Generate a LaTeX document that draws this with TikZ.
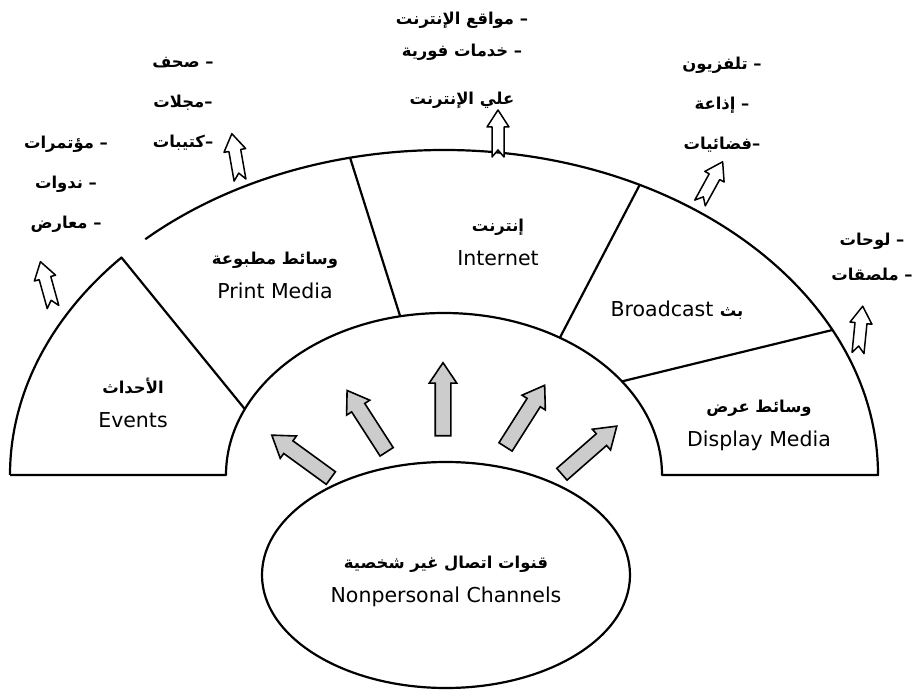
\documentclass[tikz,border=0pt]{standalone}
\usepackage{fontspec}
\setmainfont{DejaVu Sans}
\newfontfamily\arabicfont[Script=Arabic, Scale=0.8]{DejaVu Sans}
\TeXXeTstate=1
\usetikzlibrary{shapes.arrows,shapes.geometric}

\newcommand{\ar}[1]{{\arabicfont\bfseries\beginR #1\endR}}

\tikzset{
  rim/.style={line width=2.2pt, line join=round},
  seglabel/.style={align=center, font=\fontsize{20.5}{34}\selectfont},
  itemlist/.style={align=center, font=\fontsize{20.5}{40}\selectfont},
  channelarrow/.style={single arrow, draw, line width=1.6pt, fill=gray!40,
    inner sep=7pt, minimum height=73pt, single arrow head extend=6pt,
    single arrow tip angle=68},
  outlet/.pic={
    \draw[line width=1.5pt, line join=round, fill=white]
      (-6,0) -- (-6,30) -- (-11,30) -- (0,47) -- (11,30) -- (6,30) -- (6,0) -- (0,7) -- cycle;
  }
}

\begin{document}
\begin{tikzpicture}[x=1pt,y=1pt]
\useasboundingbox (0,0) rectangle (915,691);

\begin{scope}[shift={(444,216)}]
\draw[rim] (-434,0) arc[start angle=180, end angle=138, x radius=434, y radius=325] -- (156:218 and 162);
\draw[rim] (-434,0) -- (-218,0) arc[start angle=180, end angle=0, x radius=218, y radius=162]
  -- (434,0) arc[start angle=0, end angle=133.5, x radius=434, y radius=325];
\draw[rim] (102.5:434 and 325) -- (101.6:218 and 162);
\draw[rim] (63.2:434 and 325) -- (57.9:218 and 162);
\draw[rim] (26.5:434 and 325) -- (35.3:218 and 162);
\end{scope}

\node[draw, rim, ellipse, minimum width=368pt, minimum height=226pt, inner sep=0pt]
  (channels) at (446,116) {};
\node[seglabel] (channelname) at (446,110) {\ar{قنوات اتصال غير شخصية}\\Nonpersonal Channels};

\node[channelarrow, rotate=144] (ch1) at (306,231) {};
\node[channelarrow, rotate=122.8] (ch2) at (370,265) {};
\node[channelarrow, rotate=90] (ch3) at (443,286) {};
\node[channelarrow, rotate=57.6] (ch4) at (522,270) {};
\node[channelarrow, rotate=41.2] (ch5) at (585,237) {};

\node[seglabel] (events) at (133,288) {\ar{الأحداث}\\Events};
\node[seglabel] (print) at (275,416) {\ar{وسائط مطبوعة}\\Print Media};
\node[seglabel] (internet) at (498,449) {\ar{إنترنت}\\Internet};
\node[seglabel] (broadcast) at (677,381) {Broadcast \ar{بث}};
\node[seglabel] (display) at (759,266) {\ar{وسائط عرض}\\Display Media};

\pic[rotate=15.5] at (53,384) {outlet};
\pic[rotate=10] at (240,511) {outlet};
\pic at (498,534) {outlet};
\pic[rotate=-28.8] at (700,488) {outlet};
\pic[rotate=-5.7] at (858,338) {outlet};

\node[itemlist] (eventitems) at (66,507) {\ar{– مؤتمرات}\\\ar{– ندوات}\\\ar{– معارض}};
\node[itemlist] (printitems) at (183,587) {\ar{– صحف}\\\ar{–مجلات}\\\ar{–كتيبات}};
\node[itemlist] (netitems) at (462,631) {\ar{– مواقع الإنترنت}\\[-8pt]\ar{– خدمات فورية}\\[8pt]\ar{علي الإنترنت}};
\node[itemlist] (castitems) at (722,586) {\ar{– تلفزيون}\\\ar{– إذاعة}\\\ar{–فضائيات}};
\node[itemlist] (displayitems) at (872,434) {\ar{– لوحات}\\[-5pt]\ar{– ملصقات}};
\end{tikzpicture}
\end{document}
